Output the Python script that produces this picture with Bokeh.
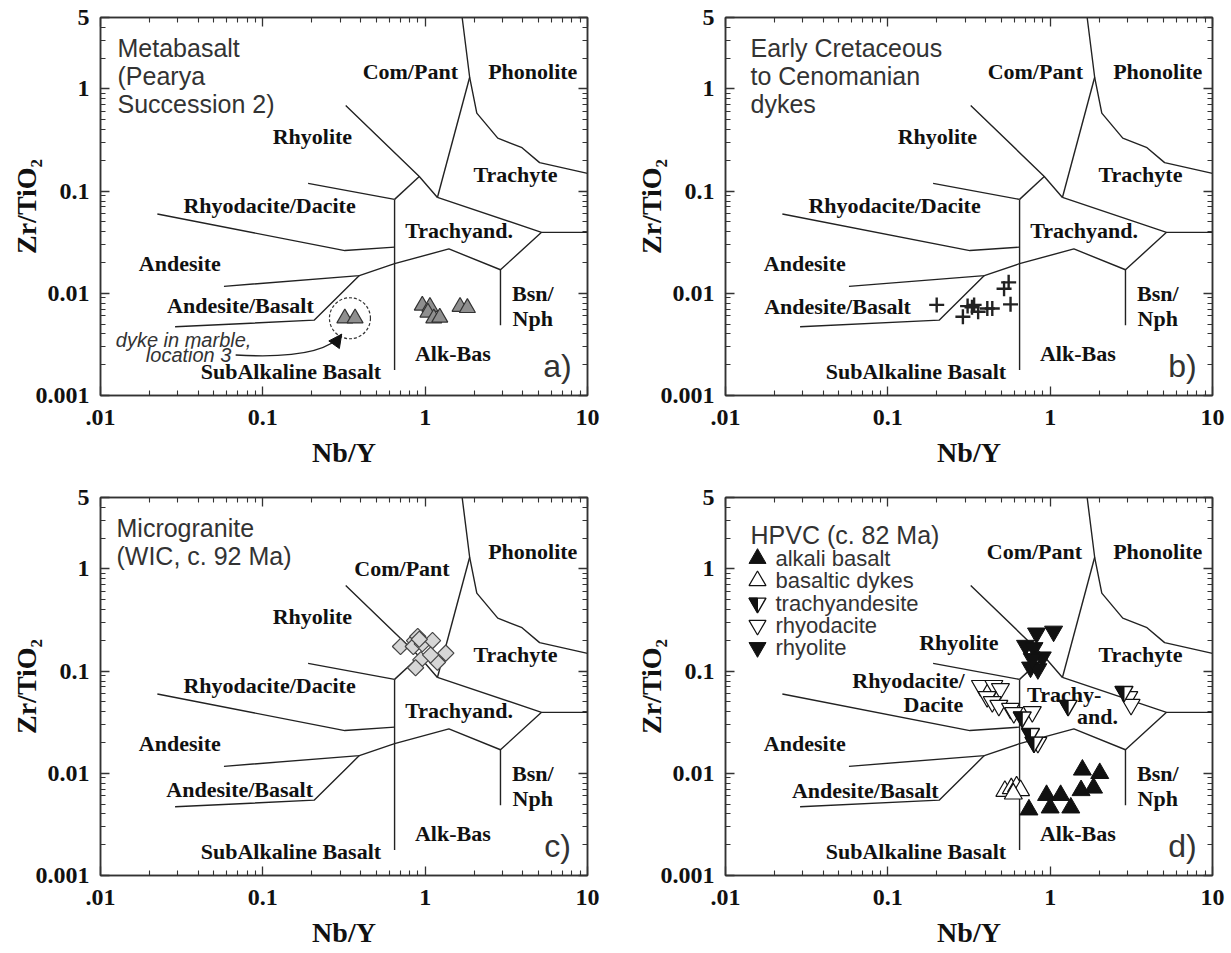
import math
from bokeh.plotting import figure
from bokeh.layouts import column, row
from bokeh.models import (Range1d, LogAxis, FixedTicker, Arrow, NormalHead,
                          CustomJSTickFormatter)
from bokeh.core.properties import value
from bokeh.embed import file_html
from bokeh.resources import INLINE

# ---------------- axes ----------------
x_ticks = [0.01, 0.1, 1.0, 10.0]
x_tick_labels = [".01", "0.1", "1", "10"]
y_ticks = [0.001, 0.01, 0.1, 1.0, 5.0]
y_tick_labels = ["0.001", "0.01", "0.1", "1", "5"]
x_title = "Nb/Y"
y_title = "Zr/TiO\u2082"

# ------------- field boundaries (Nb/Y, Zr/TiO2) -------------
bnd_phonolite_x = [1.69, 1.88, 2.08, 2.80, 3.95, 5.07, 10.0]
bnd_phonolite_y = [5.0, 1.30, 0.58, 0.33, 0.266, 0.19, 0.149]
bnd_compant_x = [1.88, 1.19]
bnd_compant_y = [1.30, 0.0867]
bnd_rhyolite_x = [0.324, 0.92, 1.19]
bnd_rhyolite_y = [0.69, 0.139, 0.0867]
bnd_rhy_tra_x = [0.92, 0.648]
bnd_rhy_tra_y = [0.139, 0.083]
bnd_rhyodacite_x = [0.19, 0.648]
bnd_rhyodacite_y = [0.119, 0.083]
bnd_alkali_x = [0.648, 0.648]
bnd_alkali_y = [0.083, 0.00178]
bnd_trachyte_x = [1.19, 5.21, 10.0]
bnd_trachyte_y = [0.0867, 0.0395, 0.0395]
bnd_trachyand_x = [5.21, 2.91, 1.40, 0.648, 0.393, 0.0576]
bnd_trachyand_y = [0.0395, 0.017, 0.0272, 0.0195, 0.0149, 0.0117]
bnd_andbas_x = [0.393, 0.207, 0.0288]
bnd_andbas_y = [0.0149, 0.00546, 0.0047]
bnd_bsnnph_x = [2.91, 2.91]
bnd_bsnnph_y = [0.017, 0.00488]
bnd_andesite_x = [0.0224, 0.32, 0.648]
bnd_andesite_y = [0.0597, 0.0262, 0.0283]

BOUNDARIES = [
    (bnd_phonolite_x, bnd_phonolite_y), (bnd_compant_x, bnd_compant_y),
    (bnd_rhyolite_x, bnd_rhyolite_y), (bnd_rhy_tra_x, bnd_rhy_tra_y),
    (bnd_rhyodacite_x, bnd_rhyodacite_y), (bnd_alkali_x, bnd_alkali_y),
    (bnd_trachyte_x, bnd_trachyte_y), (bnd_trachyand_x, bnd_trachyand_y),
    (bnd_andbas_x, bnd_andbas_y), (bnd_bsnnph_x, bnd_bsnnph_y),
    (bnd_andesite_x, bnd_andesite_y),
]

# ------------- field names -------------
field_names = ["Com/Pant", "Phonolite", "Rhyolite", "Trachyte", "Rhyodacite/Dacite",
               "Trachyand.", "Andesite", "Andesite/Basalt", "Bsn/", "Nph",
               "Alk-Bas", "SubAlkaline Basalt"]

# ------------- samples -------------
# a) Metabasalt (Pearya Succession 2)
pearya_nby = [0.96, 1.07, 1.04, 1.13, 1.23, 1.64, 1.82]
pearya_zrti = [0.0076, 0.0074, 0.0065, 0.0057, 0.0058, 0.0074, 0.0072]
dyke_nby = [0.32, 0.37]
dyke_zrti = [0.0057, 0.0057]
# b) Early Cretaceous to Cenomanian dykes
cret_nby = [0.20, 0.29, 0.31, 0.33, 0.34, 0.36, 0.41, 0.44, 0.52, 0.555, 0.57]
cret_zrti = [0.0077, 0.0059, 0.0075, 0.0073, 0.0077, 0.0066, 0.0071, 0.0071, 0.0111, 0.0128, 0.0078]
# c) Microgranite (WIC)
wic_nby = [0.705, 0.86, 0.90, 0.845, 0.96, 1.11, 0.94, 0.873, 1.19, 1.34, 1.08, 0.92]
wic_zrti = [0.174, 0.199, 0.218, 0.174, 0.185, 0.199, 0.129, 0.108, 0.122, 0.150, 0.144, 0.205]
# d) HPVC
alkbas_nby = [0.74, 0.95, 1.16, 1.0, 1.34, 1.58, 2.02, 1.55, 1.85]
alkbas_zrti = [0.0044, 0.0061, 0.0061, 0.0046, 0.0046, 0.0108, 0.0100, 0.0068, 0.0072]
basdyke_nby = [0.526, 0.576, 0.621, 0.657, 0.593]
basdyke_zrti = [0.0067, 0.0071, 0.0074, 0.0068, 0.0063]
trachyand_nby = [0.673, 0.757, 0.795, 1.29, 2.85]
trachyand_zrti = [0.0354, 0.0244, 0.0201, 0.046, 0.063]
rhyodac_nby = [0.372, 0.45, 0.494, 0.409, 0.44, 0.483, 0.57, 0.597, 0.776, 0.84, 3.05, 3.15]
rhyodac_zrti = [0.072, 0.072, 0.067, 0.056, 0.050, 0.046, 0.043, 0.039, 0.040, 0.020, 0.056, 0.047]
rhyolite_nby = [0.824, 1.05, 0.705, 0.795, 0.894, 0.757, 0.84, 0.776]
rhyolite_zrti = [0.235, 0.245, 0.178, 0.169, 0.137, 0.109, 0.105, 0.132]

legend_d = ["alkali basalt", "basaltic dykes", "trachyandesite", "rhyodacite", "rhyolite"]

# ---------------- layout / style ----------------
XR = (0.01, 10.0)
YR = (0.001, 5.0)
FRAME_W, FRAME_H = 487, 378
PPX = FRAME_W / (math.log10(XR[1]) - math.log10(XR[0]))
PPY = FRAME_H / (math.log10(YR[1]) - math.log10(YR[0]))

SERIF = "Liberation Serif"
SANS = "Liberation Sans"
INK = "#222222"


def fx(px):
    """pixel offset from frame left -> data x"""
    return 10 ** (math.log10(XR[0]) + px / PPX)


def fy(py):
    """pixel offset from frame top -> data y"""
    return 10 ** (math.log10(YR[1]) - py / PPY)


FIELD_POS = {
    "Com/Pant": (0.81, 1.49), "Phonolite": (4.6, 1.49), "Rhyolite": (0.202, 0.34),
    "Trachyte": (3.6, 0.145), "Rhyodacite/Dacite": (0.11, 0.073),
    "Trachyand.": (1.62, 0.041), "Andesite": (0.0308, 0.0195),
    "Andesite/Basalt": (0.0728, 0.0074), "Bsn/": (4.6, 0.0099), "Nph": (4.6, 0.0057),
    "Alk-Bas": (1.48, 0.0026), "SubAlkaline Basalt": (0.149, 0.0017),
}


def minor_list(lo_exp, hi_exp, top=None):
    out = []
    for e in range(lo_exp, hi_exp):
        for m in range(2, 10):
            v = m * 10 ** e
            if top is None or v < top:
                out.append(v)
    return out


X_MINOR = minor_list(-2, 1)
Y_MINOR = minor_list(-3, 1, top=5.0)


def formatter(ticks, labels):
    return CustomJSTickFormatter(args=dict(t=ticks, l=labels), code="""
        for (let i = 0; i < t.length; i++) {
            if (Math.abs(Math.log10(tick) - Math.log10(t[i])) < 1e-6) { return l[i]; }
        }
        return "";
    """)


def style_axis(ax, ticks, minor, labels, show, title=None, title_standoff=0, label_standoff=11):
    ax.ticker = FixedTicker(ticks=ticks, minor_ticks=minor)
    ax.formatter = formatter(ticks, labels if show else ["" for _ in labels])
    ax.axis_line_color = "#333333"
    ax.axis_line_width = 1.5
    ax.major_tick_line_color = "#333333"
    ax.minor_tick_line_color = "#333333"
    ax.major_tick_line_width = 1.3
    ax.minor_tick_line_width = 1.1
    ax.major_tick_in = 9
    ax.major_tick_out = 0
    ax.minor_tick_in = 5
    ax.minor_tick_out = 0
    if show:
        ax.major_label_text_font = SERIF
        ax.major_label_text_font_style = "bold"
        ax.major_label_text_font_size = "24px"
        ax.major_label_text_color = "#111111"
        ax.major_label_standoff = label_standoff
        ax.axis_label = title
        ax.axis_label_text_font = SERIF
        ax.axis_label_text_font_style = "bold"
        ax.axis_label_text_font_size = "28px"
        ax.axis_label_text_color = "#111111"
        ax.axis_label_standoff = title_standoff
    else:
        ax.axis_label = None
        ax.major_label_text_font_size = "0px"
        ax.major_label_standoff = 0


def base_panel(width, height, left_b, right_b, top_b, bottom_b, field_pos):
    p = figure(width=width, height=height, x_axis_type="log", y_axis_type="log",
               x_range=Range1d(XR[0], XR[1]), y_range=Range1d(YR[0], YR[1]),
               output_backend="svg", toolbar_location=None,
               min_border_left=left_b, min_border_right=right_b,
               min_border_top=top_b, min_border_bottom=bottom_b)
    p.grid.visible = False
    p.outline_line_color = "#333333"
    p.outline_line_width = 1.5
    p.background_fill_color = "white"
    p.border_fill_color = "white"
    style_axis(p.xaxis[0], x_ticks, X_MINOR, x_tick_labels, True, x_title, 9, 14)
    style_axis(p.yaxis[0], y_ticks, Y_MINOR, y_tick_labels, True, y_title, -9, 11)
    top = LogAxis()
    right = LogAxis()
    style_axis(top, x_ticks, X_MINOR, x_tick_labels, False)
    style_axis(right, y_ticks, Y_MINOR, y_tick_labels, False)
    p.add_layout(top, "above")
    p.add_layout(right, "right")

    for bx, by in BOUNDARIES:
        p.line(bx, by, line_color=INK, line_width=1.4)

    names = list(field_pos.keys())
    p.text(x=[field_pos[n][0] for n in names], y=[field_pos[n][1] for n in names],
           text=names, text_font=value(SERIF), text_font_style="bold",
           text_font_size="22px", text_align="center", text_baseline="middle",
           text_color="#111111")
    return p


def title_lines(p, lines, left, top, step=28):
    p.text(x=[fx(left)] * len(lines), y=[fy(top + step * i) for i in range(len(lines))],
           text=lines, text_font=value(SANS), text_font_size="25px",
           text_align="left", text_baseline="middle", text_color="#333333")


def tag(p, letter):
    p.text(x=[fx(FRAME_W - 30)], y=[fy(FRAME_H - 30)], text=[letter],
           text_font=value(SANS), text_font_size="32px", text_align="center",
           text_baseline="middle", text_color="#333333")


def half_inv_tri(xs, ys, size):
    r = size / 2.0
    h = r * math.sqrt(3)
    a = h / 3.0
    pts = [(-r, -a), (0.0, -a), (0.0, h - a)]
    px_, py_ = [], []
    for x, y in zip(xs, ys):
        px_.append([x * 10 ** (dx / PPX) for dx, dy in pts])
        py_.append([y * 10 ** (-dy / PPY) for dx, dy in pts])
    return px_, py_


W_LEFT, W_RIGHT = 623, 606
H_TOP, H_BOT = 480, 471

# ---------------- panel a ----------------
pos_a = dict(FIELD_POS)
pos_a["Andesite/Basalt"] = (0.0728, 0.0076)
pa = base_panel(W_LEFT, H_TOP, 100, 36, 17, 85, pos_a)
title_lines(pa, ["Metabasalt", "(Pearya", "Succession 2)"], 17, 30)
gx = math.sqrt(dyke_nby[0] * dyke_nby[1])
gy = math.sqrt(dyke_zrti[0] * dyke_zrti[1])
pa.scatter([gx], [gy], marker="circle", size=41, fill_color=None, line_color="#333333",
           line_dash="3 2", line_width=1.2)
pa.scatter(pearya_nby, pearya_zrti, marker="triangle", size=16, fill_color="#8f8f8f",
           line_color="#333333", line_width=1.2)
pa.scatter(dyke_nby, dyke_zrti, marker="triangle", size=16, fill_color="#8f8f8f",
           line_color="#333333", line_width=1.2)
pa.text(x=[0.0325, 0.0349], y=[0.00348, 0.00249], text=["dyke in marble,", "location 3"],
        text_font=value(SANS), text_font_style="italic", text_font_size="20px",
        text_align="center", text_baseline="middle", text_color="#333333")
arr_x0, arr_y0 = 0.068, 0.00249
arr_cx, arr_cy = 0.235, 0.00222
arr_x1, arr_y1 = 0.306, 0.00398
pa.quadratic(x0=[arr_x0], y0=[arr_y0], x1=[arr_x1], y1=[arr_y1], cx=[arr_cx], cy=[arr_cy],
             line_color=INK, line_width=1.4)
pa.add_layout(Arrow(end=NormalHead(size=13, fill_color="#111111", line_color="#111111", line_width=1),
                    x_start=arr_cx, y_start=arr_cy, x_end=arr_x1, y_end=arr_y1, line_alpha=0.0))
tag(pa, "a)")

# ---------------- panel b ----------------
pos_b = dict(FIELD_POS)
pos_b["Andesite/Basalt"] = (0.049, 0.0074)
pb = base_panel(W_RIGHT, H_TOP, 102, 17, 17, 85, pos_b)
title_lines(pb, ["Early Cretaceous", "to Cenomanian", "dykes"], 25, 30)
pb.scatter(cret_nby, cret_zrti, marker="cross", size=15, line_color="#222222", line_width=2.4)
tag(pb, "b)")

# ---------------- panel c ----------------
pos_c = dict(FIELD_POS)
pos_c["Com/Pant"] = (0.72, 1.0)
pos_c["Andesite/Basalt"] = (0.072, 0.0069)
pc = base_panel(W_LEFT, H_BOT, 100, 36, 17, 76, pos_c)
title_lines(pc, ["Microgranite", "(WIC, c. 92 Ma)"], 16, 30)
pc.scatter(wic_nby, wic_zrti, marker="square", angle=math.pi / 4, size=11.5,
           fill_color="#d6d6d6", line_color="#444444", line_width=1.2)
tag(pc, "c)")

# ---------------- panel d ----------------
pos_d = dict(FIELD_POS)
pos_d.pop("Rhyodacite/Dacite")
pos_d.pop("Trachyand.")
pos_d["Rhyolite"] = (0.274, 0.191)
pos_d["Com/Pant"] = (0.80, 1.47)
pos_d["Andesite/Basalt"] = (0.0726, 0.0068)
pos_d["Rhyodacite/"] = (0.134, 0.0807)
pos_d["Dacite"] = (0.191, 0.0467)
pos_d["Trachy-"] = (1.22, 0.0597)
pos_d["and."] = (1.96, 0.0361)
pd_ = base_panel(W_RIGHT, H_BOT, 102, 17, 17, 76, pos_d)
title_lines(pd_, ["HPVC (c. 82 Ma)"], 25, 37)

MS = 18
pd_.scatter(basdyke_nby, basdyke_zrti, marker="triangle", size=MS, fill_color="white",
            line_color="#111111", line_width=1.2)
pd_.scatter(alkbas_nby, alkbas_zrti, marker="triangle", size=MS, fill_color="#111111",
            line_color="#111111", line_width=1.0)
pd_.scatter(rhyodac_nby, rhyodac_zrti, marker="inverted_triangle", size=MS, fill_color="white",
            line_color="#111111", line_width=1.2)
pd_.scatter(trachyand_nby, trachyand_zrti, marker="inverted_triangle", size=MS,
            fill_color="white", line_color="#111111", line_width=1.4)
hx, hy = half_inv_tri(trachyand_nby, trachyand_zrti, MS)
pd_.patches(hx, hy, fill_color="#111111", line_color="#111111", line_width=1.0)
pd_.scatter(rhyolite_nby, rhyolite_zrti, marker="inverted_triangle", size=MS,
            fill_color="#111111", line_color="#111111", line_width=1.0)

# legend (manual)
LS = 17
ly = [fy(61 + 22.25 * i) for i in range(5)]
lx = fx(32)
pd_.scatter([lx], [ly[0]], marker="triangle", size=LS, fill_color="#111111", line_color="#111111")
pd_.scatter([lx], [ly[1]], marker="triangle", size=LS, fill_color="white", line_color="#111111",
            line_width=1.2)
pd_.scatter([lx], [ly[2]], marker="inverted_triangle", size=LS, fill_color="white",
            line_color="#111111", line_width=1.4)
lhx, lhy = half_inv_tri([lx], [ly[2]], LS)
pd_.patches(lhx, lhy, fill_color="#111111", line_color="#111111", line_width=1.0)
pd_.scatter([lx], [ly[3]], marker="inverted_triangle", size=LS, fill_color="white",
            line_color="#111111", line_width=1.2)
pd_.scatter([lx], [ly[4]], marker="inverted_triangle", size=LS, fill_color="#111111",
            line_color="#111111")
pd_.text(x=[fx(50)] * 5, y=ly, text=legend_d, text_font=value(SANS), text_font_size="22px",
         text_align="left", text_baseline="middle", text_color="#333333")
tag(pd_, "d)")

layout = column(row(pa, pb), row(pc, pd_))
open("out.html", "w").write(file_html(layout, INLINE, title="Zr/TiO2 vs Nb/Y"))
